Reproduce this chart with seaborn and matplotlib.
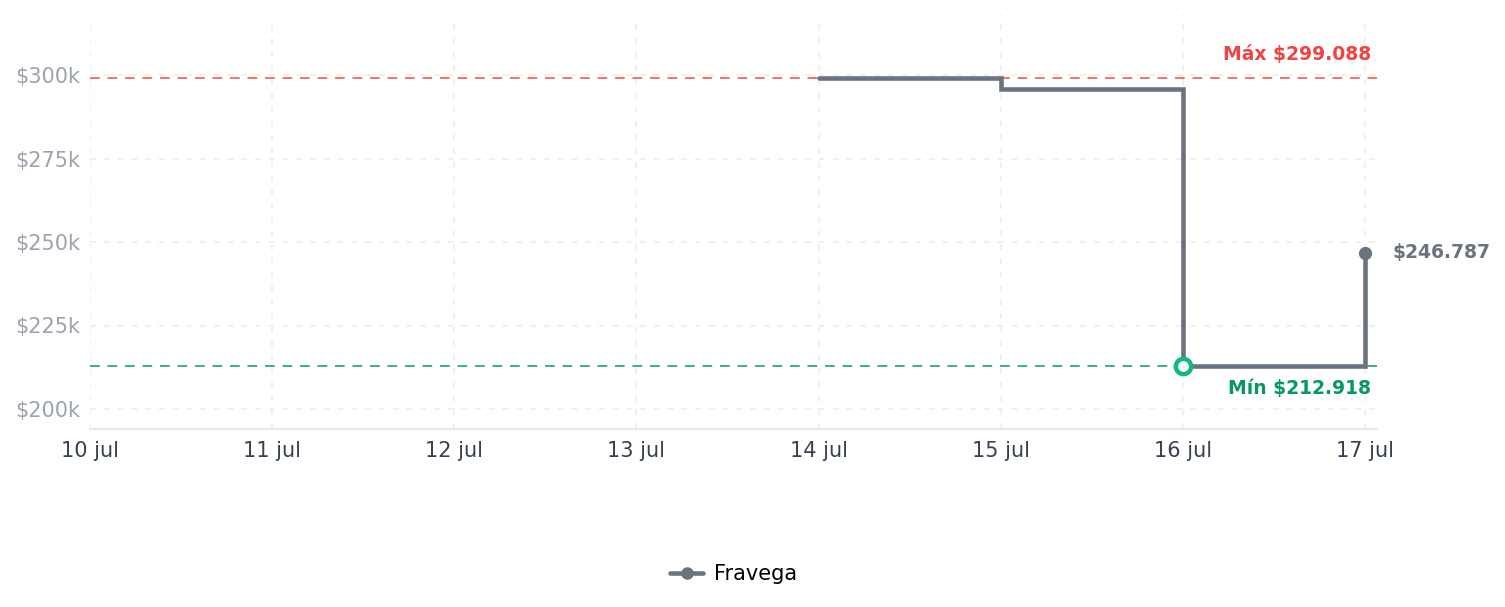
import matplotlib
matplotlib.use("Agg")
import matplotlib.pyplot as plt
import matplotlib.dates as mdates
import seaborn as sns
import pandas as pd
import numpy as np

# ---- data ----
dates = ["2025-07-14", "2025-07-15", "2025-07-16", "2025-07-17"]
prices = [299088, 295700, 212918, 246787]
store = "Fravega"
tick_dates = ["2025-07-10", "2025-07-11", "2025-07-12", "2025-07-13",
              "2025-07-14", "2025-07-15", "2025-07-16", "2025-07-17"]
tick_labels = ["10 jul", "11 jul", "12 jul", "13 jul", "14 jul", "15 jul", "16 jul", "17 jul"]
y_ticks = [200000, 225000, 250000, 275000, 300000]
y_tick_labels = ["$200k", "$225k", "$250k", "$275k", "$300k"]
max_label = "Máx $299.088"
min_label = "Mín $212.918"
last_label = "$246.787"

sns.set_theme(style="white")
plt.rcParams['font.family'] = ['DejaVu Sans']

df = pd.DataFrame({"fecha": pd.to_datetime(dates), "precio": prices, "tienda": store})

LINE = "#6b7280"
fig = plt.figure(figsize=(15.05, 6.07), dpi=100)
ax = fig.add_axes([90/1505, 1-429/607, (1377-90)/1505, (429-15)/607])

sns.lineplot(data=df, x="fecha", y="precio", hue="tienda", palette=[LINE],
             drawstyle="steps-post", linewidth=3.3, ax=ax, legend=False,
             solid_capstyle="round", solid_joinstyle="miter")

tx = pd.to_datetime(tick_dates)
x0 = mdates.date2num(tx[0])
x1 = mdates.date2num(tx[-1])
ax.set_xlim(x0, x1 + 0.066)
ax.set_ylim(194000, 318000)

# grid
for t in tx:
    ax.axvline(t, color="#ececec", lw=1.1, ls=(0, (4, 5)), zorder=0)
for y in y_ticks:
    ax.axhline(y, color="#ececec", lw=1.1, ls=(0, (4, 5)), zorder=0)

# max/min lines
pmax, pmin = max(prices), min(prices)
ax.axhline(pmax, color="#f87171", lw=1.4, ls=(0, (5, 4)), zorder=1)
ax.axhline(pmin, color="#34b38a", lw=1.4, ls=(0, (5, 4)), zorder=1)

# markers
imin = prices.index(pmin)
ax.plot(df["fecha"].iloc[imin], pmin, marker="o", ms=11, mfc="white",
        mec="#10b981", mew=3.2, zorder=5, ls="none")
ax.plot(df["fecha"].iloc[-1], prices[-1], marker="o", ms=8.5, color=LINE,
        zorder=5, ls="none")

# annotations
ax.annotate(max_label, xy=(1, pmax), xycoords=("axes fraction", "data"),
            xytext=(-4.3, 17.3), textcoords="offset points", ha="right", va="center",
            color="#ef4444", fontsize=13.5, fontweight="bold")
ax.annotate(min_label, xy=(1, pmin), xycoords=("axes fraction", "data"),
            xytext=(-4.3, -16.5), textcoords="offset points", ha="right", va="center",
            color="#059669", fontsize=13.5, fontweight="bold")
ax.annotate(last_label, xy=(df["fecha"].iloc[-1], prices[-1]),
            xytext=(20, 0), textcoords="offset points", ha="left", va="center",
            color=LINE, fontsize=13.5, fontweight="bold")

ax.set_xticks(tx)
ax.set_xticklabels(tick_labels, color="#374151", fontsize=15)
ax.set_yticks(y_ticks)
ax.set_yticklabels(y_tick_labels, color="#9ca3af", fontsize=15)
ax.tick_params(axis="both", length=0)
ax.tick_params(axis="x", pad=8.5)
ax.tick_params(axis="y", pad=7)
ax.set_xlabel("")
ax.set_ylabel("")
for s in ["left", "right", "top"]:
    ax.spines[s].set_visible(False)
ax.spines["bottom"].set_color("#e5e7eb")
ax.spines["bottom"].set_linewidth(1.4)

from matplotlib.lines import Line2D
h = Line2D([], [], color=LINE, lw=3.3, marker="o", ms=8)
leg = ax.legend([h], [store], loc="center", bbox_to_anchor=(0.5, -0.35),
                frameon=False, fontsize=15, handlelength=1.6, handletextpad=0.5)
for t in leg.get_texts():
    t.set_color("black")

fig.savefig("out.png", dpi=100)
